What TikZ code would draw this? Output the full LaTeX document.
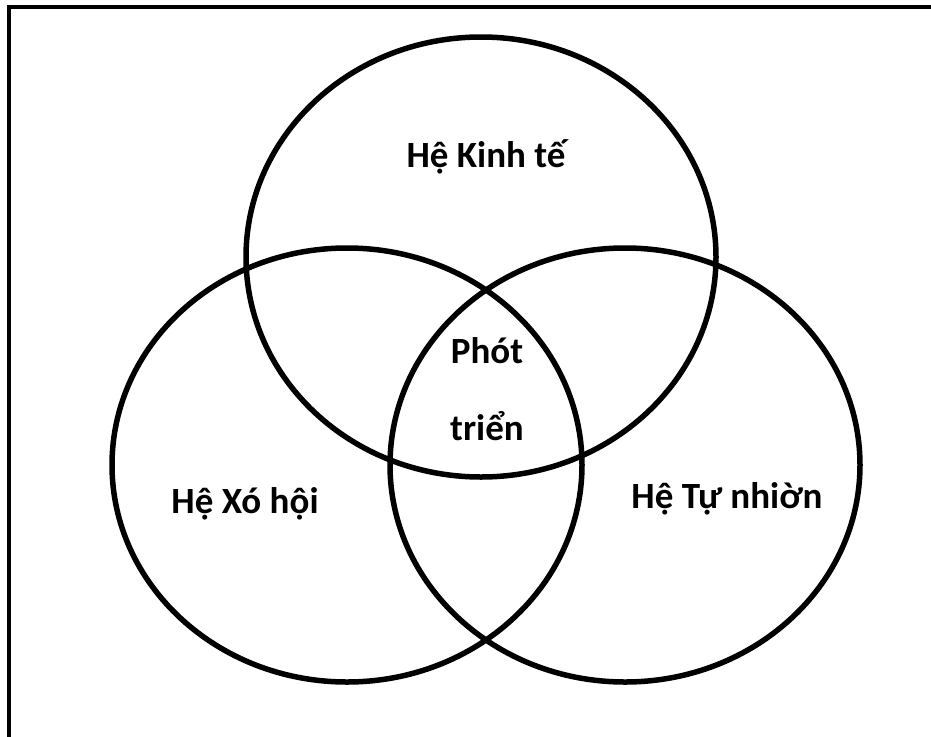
\documentclass[tikz,border=0pt]{standalone}
\usepackage{fontspec}
\setmainfont{Carlito}
\begin{document}
\begin{tikzpicture}[x=1pt,y=-1pt,
  ring/.style={draw=black,line width=5.5pt},
  label/.style={font=\bfseries\fontsize{37}{44}\selectfont,anchor=base,inner sep=0pt}]
\useasboundingbox (0,0) rectangle (931,736);
\clip (0,0) rectangle (931,736);
% frame running off the right and bottom edges
\draw[line width=4.5pt] (9,800) -- (9,7) -- (1000,7);
% the three systems
\draw[ring] (481,257) ellipse [x radius=235, y radius=220];
\draw[ring] (347,465) ellipse [x radius=235, y radius=217];
\draw[ring] (625,465) ellipse [x radius=235, y radius=217];
% labels
\node[label] (kt) at (486,167) {Hệ Kinh tế};
\node[label] (xh) at (245,513) {Hệ Xó hội};
\node[label] (tn) at (727,508) {Hệ Tự nhiờn};
\node[label] (pt1) at (487,363) {Phót};
\node[label] (pt2) at (487,440) {triển};
\end{tikzpicture}
\end{document}
